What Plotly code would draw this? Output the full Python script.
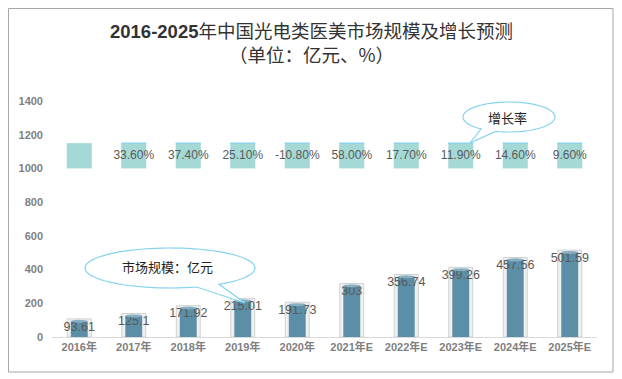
import math
import plotly.graph_objects as go

# ---- data ----
categories = ["2016年", "2017年", "2018年", "2019年", "2020年",
              "2021年E", "2022年E", "2023年E", "2024年E", "2025年E"]
market_size = [93.61, 125.1, 171.92, 215.01, 191.73, 303, 356.74, 399.26, 457.56, 501.59]
market_labels = ["93.61", "125.1", "171.92", "215.01", "191.73", "303", "356.74", "399.26", "457.56", "501.59"]
growth_labels = ["", "33.60%", "37.40%", "25.10%", "-10.80%", "58.00%", "17.70%", "11.90%", "14.60%", "9.60%"]
growth_box_base = 1000
growth_box_height = 150
y_ticks = [0, 200, 400, 600, 800, 1000, 1200, 1400]

# page has an 8px body margin; figure coordinates = page - 8
OFF = 8
W, H = 622 - OFF, 379 - OFF
ML, MT = 52 - OFF, 101 - OFF
PLOT_R, PLOT_B = 597 - OFF, 337 - OFF
MR, MB = W - PLOT_R, H - PLOT_B
PW = W - ML - MR
PH = H - MT - MB


def px(x):
    """page pixel x -> paper"""
    return (x - OFF - ML) / PW


def py(y):
    """page pixel y -> paper"""
    return (PLOT_B - (y - OFF)) / PH


fig = go.Figure()

# glass outer cylinder
fig.add_trace(go.Bar(
    x=categories, y=[v + 14 for v in market_size], width=0.44,
    marker=dict(color="rgba(228,228,228,0.55)", line=dict(color="rgba(205,205,205,0.9)", width=1)),
    hoverinfo="skip", showlegend=False))
# dark cylinder
fig.add_trace(go.Bar(
    x=categories, y=market_size, width=0.31,
    marker=dict(color="#5b8fa7", line=dict(width=0)),
    showlegend=False))
# growth boxes
fig.add_trace(go.Bar(
    x=categories, y=[growth_box_height] * len(categories), base=growth_box_base, width=0.46,
    marker=dict(color="#a5d9d6", line=dict(width=0)),
    showlegend=False))
# value labels
fig.add_trace(go.Scatter(
    x=categories, y=market_size, mode="text", text=market_labels,
    textposition="bottom center",
    textfont=dict(family="Liberation Sans, Arial", size=12.5, color="#595959"),
    showlegend=False, hoverinfo="skip"))
# growth labels
fig.add_trace(go.Scatter(
    x=categories, y=[growth_box_base + growth_box_height / 2] * len(categories),
    mode="text", text=growth_labels, textposition="middle center",
    textfont=dict(family="Liberation Sans, Arial", size=12, color="#595959"),
    showlegend=False, hoverinfo="skip"))

shapes = []
# cylinder top caps
for i, v in enumerate(market_size):
    shapes.append(dict(type="circle", xref="x", yref="y",
                       x0=i - 0.155, x1=i + 0.155, y0=v - 9, y1=v + 9,
                       fillcolor="#86b0c2", line=dict(width=0), layer="above"))
# light-blue top edge on growth boxes
for i in range(1, len(categories)):
    shapes.append(dict(type="line", xref="x", yref="y",
                       x0=i - 0.23, x1=i + 0.23,
                       y0=growth_box_base + growth_box_height, y1=growth_box_base + growth_box_height,
                       line=dict(color="#7fd0ee", width=1.2)))

# chart border
shapes.append(dict(type="rect", xref="paper", yref="paper",
                   x0=px(8.5), x1=px(613), y0=py(372), y1=py(8.5),
                   line=dict(color="#a6a6a6", width=1), fillcolor="rgba(0,0,0,0)", layer="below"))


def callout(cx, cy, rx, ry, b1, b2, tip):
    a1 = math.atan2((b1[1] - cy) / ry, (b1[0] - cx) / rx)
    a2 = math.atan2((b2[1] - cy) / ry, (b2[0] - cx) / rx)
    if a1 < a2:
        a1 += 2 * math.pi
    n = 80
    pts = []
    for k in range(n + 1):
        a = a2 + (a1 - a2) * k / n
        pts.append((cx + rx * math.cos(a), cy + ry * math.sin(a)))
    pts.append(tip)
    path = "M " + " L ".join(f"{px(x):.5f},{py(y):.5f}" for x, y in pts) + " Z"
    return dict(type="path", xref="paper", yref="paper", path=path,
                fillcolor="white", line=dict(color="#86d3f0", width=1.2), layer="above")


shapes.append(callout(170, 268, 85, 20, (227, 287), (198, 288), (245, 303)))
shapes.append(callout(509, 117, 46, 15, (496, 131), (481, 129), (470, 143)))

annotations = [
    dict(text="<b>2016-2025</b>年中国光电类医美市场规模及增长预测", xref="paper", yref="paper",
         x=px(311), y=py(32), showarrow=False, xanchor="center", yanchor="middle",
         font=dict(family="Liberation Sans, Noto Sans CJK SC", size=18.5, color="#333333")),
    dict(text="（单位：亿元、%）", xref="paper", yref="paper",
         x=px(311), y=py(54), showarrow=False, xanchor="center", yanchor="middle",
         font=dict(family="Noto Sans CJK SC", size=18.5, color="#333333")),
    dict(text="市场规模：亿元", xref="paper", yref="paper",
         x=px(167), y=py(266), showarrow=False, xanchor="center", yanchor="middle",
         font=dict(family="Noto Sans CJK SC", size=13, color="#222222")),
    dict(text="增长率", xref="paper", yref="paper",
         x=px(507), y=py(117), showarrow=False, xanchor="center", yanchor="middle",
         font=dict(family="Noto Sans CJK SC", size=13, color="#222222")),
]

fig.update_layout(
    width=W, height=H,
    margin=dict(l=ML, r=MR, t=MT, b=MB, autoexpand=False),
    paper_bgcolor="white", plot_bgcolor="white",
    barmode="overlay", bargap=0.5,
    shapes=shapes, annotations=annotations,
    showlegend=False,
    xaxis=dict(type="category", showgrid=False, showline=True, linecolor="#d9d9d9", linewidth=1,
               ticks="", tickfont=dict(family="Liberation Sans, Noto Sans CJK SC", size=11,
                                        color="#7f7f7f", weight="bold"),
               range=[-0.5, len(categories) - 0.5], fixedrange=True),
    yaxis=dict(range=[0, 1400], tickvals=y_ticks, showgrid=False, zeroline=False, showline=False,
               tickfont=dict(family="Liberation Sans, Arial", size=11, color="#7f7f7f", weight="bold"),
               ticklabelstandoff=8, fixedrange=True),
)

fig.write_html("out.html")
